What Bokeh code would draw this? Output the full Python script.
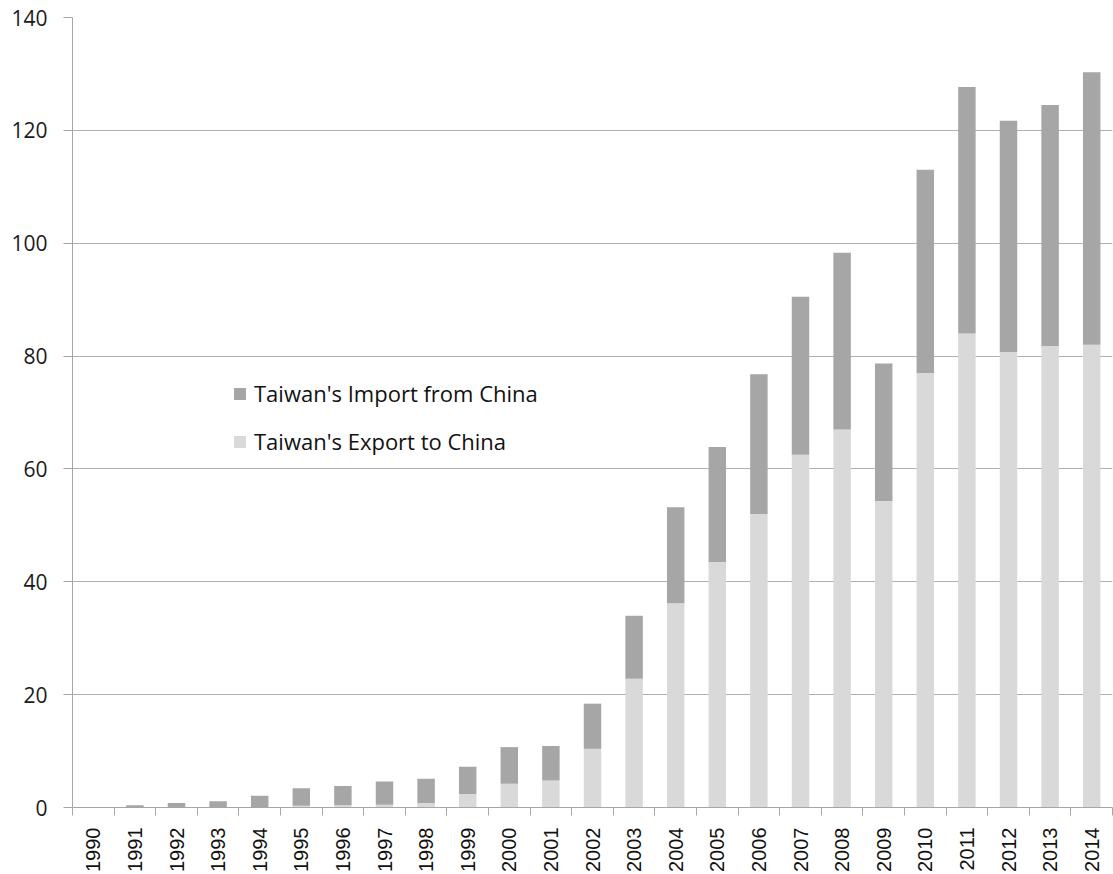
import numpy as np
from bokeh.plotting import figure
from bokeh.models import FixedTicker, Legend, LegendItem, ColumnDataSource
from bokeh.embed import file_html
from bokeh.resources import INLINE

years = list(range(1990, 2015))
totals = [0.0, 0.4, 0.8, 1.1, 2.1, 3.4, 3.8, 4.6, 5.1, 7.2, 10.7, 10.9, 18.4, 34.0,
          53.2, 63.9, 76.8, 90.5, 98.3, 78.7, 113.0, 127.7, 121.7, 124.5, 130.3]
exports = [0.0, 0.0, 0.0, 0.0, 0.0, 0.3, 0.4, 0.5, 0.8, 2.4, 4.2, 4.8, 10.4, 22.8,
           36.2, 43.5, 52.0, 62.5, 67.0, 54.3, 77.0, 84.0, 80.7, 81.8, 82.0]
imports = [round(t - e, 2) for t, e in zip(totals, exports)]
y_ticks = [0, 20, 40, 60, 80, 100, 120, 140]

xs = list(range(len(years)))
src = ColumnDataSource(dict(x=xs, exp=exports, imp=imports,
                            year=[str(y) for y in years]))

p = figure(width=1113, height=874, output_backend="svg", toolbar_location=None,
           x_range=(-0.5, len(years) - 0.5), y_range=(0, 140),
           min_border_left=72, min_border_right=1, min_border_top=17,
           min_border_bottom=66, outline_line_color=None, background_fill_color="white")

r = p.vbar_stack(["exp", "imp"], x="x", width=0.42, source=src,
                 color=["#d9d9d9", "#a6a6a6"], line_color=None)

p.xgrid.grid_line_color = None
p.ygrid.grid_line_color = "#b0b0b0"
p.ygrid.grid_line_width = 1
p.ygrid.ticker = FixedTicker(ticks=y_ticks)

p.yaxis.ticker = FixedTicker(ticks=y_ticks)
p.yaxis.axis_line_color = "#a6a6a6"
p.yaxis.major_tick_line_color = "#a6a6a6"
p.yaxis.major_tick_out = 9
p.yaxis.major_tick_in = 0
p.yaxis.minor_tick_line_color = None
p.yaxis.major_label_standoff = 16
p.yaxis.major_label_text_font = "Open Sans"
p.yaxis.major_label_text_font_size = "21px"
p.yaxis.major_label_text_color = "#1a1a1a"

p.xaxis.ticker = FixedTicker(ticks=xs, minor_ticks=[i - 0.5 for i in range(len(years) + 1)])
p.xaxis.major_label_overrides = {i: str(y) for i, y in zip(xs, years)}
p.xaxis.axis_line_color = "#a6a6a6"
p.xaxis.major_tick_line_color = None
p.xaxis.major_tick_out = 0
p.xaxis.major_tick_in = 0
p.xaxis.minor_tick_line_color = "#a6a6a6"
p.xaxis.minor_tick_out = 8
p.xaxis.minor_tick_in = 0
p.xaxis.major_label_orientation = np.pi / 2
p.xaxis.major_label_standoff = 12
p.xaxis.major_label_text_font = "Liberation Sans"
p.xaxis.major_label_text_font_size = "20px"
p.xaxis.major_label_text_color = "#111111"

legend = Legend(items=[LegendItem(label="Taiwan's Import from China", renderers=[r[1]]),
                       LegendItem(label="Taiwan's Export to China", renderers=[r[0]])],
                location=(160, 342), orientation="vertical",
                glyph_width=15, glyph_height=15, label_height=48, spacing=0,
                label_standoff=7, padding=0, margin=0,
                border_line_color=None, background_fill_alpha=0,
                label_text_font="Open Sans", label_text_font_size="22px",
                label_text_color="#111111")
p.add_layout(legend, "center")

open("out.html", "w").write(file_html(p, INLINE))
